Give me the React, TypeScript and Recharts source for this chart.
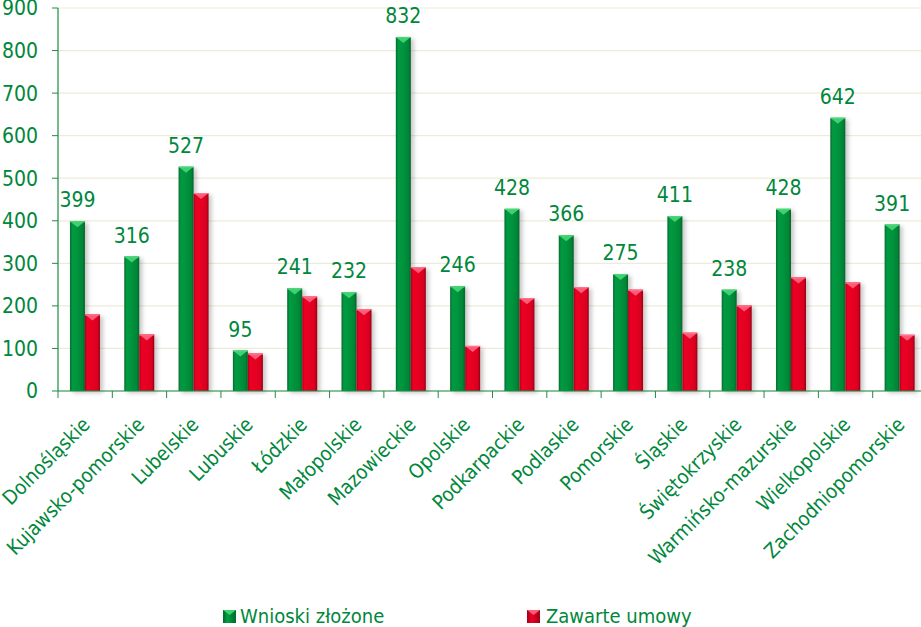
import React from "react";
import { BarChart, Bar, XAxis, YAxis, CartesianGrid, LabelList, Legend } from "recharts";

const categories = [
  "Dolnośląskie", "Kujawsko-pomorskie", "Lubelskie", "Lubuskie", "Łódzkie", "Małopolskie",
  "Mazowieckie", "Opolskie", "Podkarpackie", "Podlaskie", "Pomorskie", "Śląskie",
  "Świętokrzyskie", "Warmińsko-mazurskie", "Wielkopolskie", "Zachodniopomorskie",
];
const wnioskiZlozone = [399, 316, 527, 95, 241, 232, 832, 246, 428, 366, 275, 411, 238, 428, 642, 391];
const zawarteUmowy = [180, 133, 465, 88, 222, 192, 291, 106, 218, 244, 238, 137, 201, 267, 255, 132];
const yTicks = [0, 100, 200, 300, 400, 500, 600, 700, 800, 900];
const seriesNames = ["Wnioski złożone", "Zawarte umowy"];

const data = categories.map((name, i) => ({
  name,
  wnioski: wnioskiZlozone[i],
  umowy: zawarteUmowy[i],
}));

const FONT = "'DejaVu Sans Condensed', 'DejaVu Sans', sans-serif";
const TEXT_GREEN = "#00873C";
const HALF_BAND = 869 / 16 / 2;

const makeShape = (grad: string, tri: string, edge: string) => (props: any) => {
  const { x, y, width, height } = props;
  if (!height || height <= 0) return null;
  const t = Math.min(6, height);
  return (
    <g filter="url(#barShadow)">
      <rect x={x} y={y} width={width} height={height} fill={`url(#${grad})`} />
      <polygon points={`${x},${y} ${x + width},${y} ${x + width / 2},${y + t}`} fill={tri} />
      <line x1={x} y1={y + 0.5} x2={x + width} y2={y + 0.5} stroke={edge} strokeWidth={1} />
    </g>
  );
};

const GreenShape = makeShape("gGreen", "#3ED26F", "#55D47E");
const RedShape = makeShape("gRed", "#FF5A78", "#FF7A90");

const XTick = (props: any) => {
  const { x, y, payload } = props;
  const ax = x + 6;
  const ay = y + 35;
  return (
    <g>
      <line x1={x - HALF_BAND} y1={y} x2={x - HALF_BAND} y2={y + 7} stroke="#1E8C46" strokeWidth={1} />
      <text
        x={ax}
        y={ay}
        textAnchor="end"
        transform={`rotate(-45, ${ax}, ${ay})`}
        fill={TEXT_GREEN}
        fontSize={20}
        fontFamily={FONT}
      >
        {payload.value}
      </text>
    </g>
  );
};

const TopLabel = (props: any) => {
  const { x, y, width, value } = props;
  return (
    <text x={x + width / 2} y={y - 14} textAnchor="middle" fill={TEXT_GREEN} fontSize={21} fontFamily={FONT}>
      {value}
    </text>
  );
};

const LegendIcon = ({ grad, tri }: { grad: string; tri: string }) => (
  <svg width={13} height={13} style={{ display: "block" }}>
    <defs>
      <linearGradient id={`lg-${grad}`} x1="0" y1="0" x2="1" y2="0">
        {grad === "green" ? (
          <>
            <stop offset="0" stopColor="#05662E" />
            <stop offset="0.35" stopColor="#00A043" />
            <stop offset="1" stopColor="#006A2B" />
          </>
        ) : (
          <>
            <stop offset="0" stopColor="#9E0016" />
            <stop offset="0.35" stopColor="#EC0024" />
            <stop offset="1" stopColor="#A00018" />
          </>
        )}
      </linearGradient>
    </defs>
    <rect x={0} y={0} width={13} height={13} fill={`url(#lg-${grad})`} />
    <polygon points="0,0 13,0 6.5,5" fill={tri} />
  </svg>
);

const LegendContent = () => (
  <div style={{ position: "relative", width: 921, height: 30, fontFamily: FONT, fontSize: 20, color: TEXT_GREEN }}>
    <div style={{ position: "absolute", left: 223, top: 6 }}>
      <LegendIcon grad="green" tri="#3ED26F" />
    </div>
    <div style={{ position: "absolute", left: 240, top: 0, whiteSpace: "nowrap", lineHeight: "24px" }}>{seriesNames[0]}</div>
    <div style={{ position: "absolute", left: 527, top: 6 }}>
      <LegendIcon grad="red" tri="#FF5A78" />
    </div>
    <div style={{ position: "absolute", left: 546, top: 0, whiteSpace: "nowrap", lineHeight: "24px" }}>{seriesNames[1]}</div>
  </div>
);

export default function App() {
  return (
    <div style={{ position: "absolute", left: 0, top: 0, width: 921, height: 627, overflow: "hidden", background: "#fff" }}>
      <BarChart
        width={930}
        height={627}
        data={data}
        margin={{ top: 8, right: 3, left: 0, bottom: 0 }}
        barCategoryGap="22%"
        barGap={0}
      >
        <defs>
          <linearGradient id="gGreen" x1="0" y1="0" x2="1" y2="0">
            <stop offset="0" stopColor="#0A6530" />
            <stop offset="0.15" stopColor="#029A40" />
            <stop offset="0.45" stopColor="#00953E" />
            <stop offset="0.85" stopColor="#008536" />
            <stop offset="1" stopColor="#0B5E2C" />
          </linearGradient>
          <linearGradient id="gRed" x1="0" y1="0" x2="1" y2="0">
            <stop offset="0" stopColor="#A5001A" />
            <stop offset="0.15" stopColor="#EC0024" />
            <stop offset="0.5" stopColor="#E60022" />
            <stop offset="0.85" stopColor="#D8001F" />
            <stop offset="1" stopColor="#8E0016" />
          </linearGradient>
          <filter id="barShadow" x="-30%" y="-5%" width="180%" height="115%">
            <feDropShadow dx="3" dy="2" stdDeviation="2" floodColor="#000" floodOpacity="0.22" />
          </filter>
        </defs>
        <CartesianGrid vertical={false} stroke="#ECECDA" strokeWidth={1.2} />
        <XAxis
          dataKey="name"
          interval={0}
          height={236}
          tickLine={false}
          tickSize={0}
          tickMargin={0}
          axisLine={{ stroke: "#1E8C46", strokeWidth: 1.2 }}
          tick={<XTick />}
        />
        <YAxis
          width={58}
          domain={[0, 900]}
          ticks={yTicks}
          interval={0}
          tickSize={6}
          tickMargin={14}
          axisLine={{ stroke: "#1E8C46", strokeWidth: 1.2 }}
          tickLine={{ stroke: "#1E8C46" }}
          tick={{ fill: TEXT_GREEN, fontSize: 21, fontFamily: FONT }}
        />
        <Legend
          layout="vertical"
          align="center"
          verticalAlign="middle"
          content={<LegendContent />}
          wrapperStyle={{ position: "absolute", left: 0, top: 604, width: 921, height: 30 }}
        />
        <Bar dataKey="wnioski" name={seriesNames[0]} fill="#00953E" shape={GreenShape} isAnimationActive={false}>
          <LabelList dataKey="wnioski" content={<TopLabel />} />
        </Bar>
        <Bar dataKey="umowy" name={seriesNames[1]} fill="#E60022" shape={RedShape} isAnimationActive={false} />
      </BarChart>
    </div>
  );
}
